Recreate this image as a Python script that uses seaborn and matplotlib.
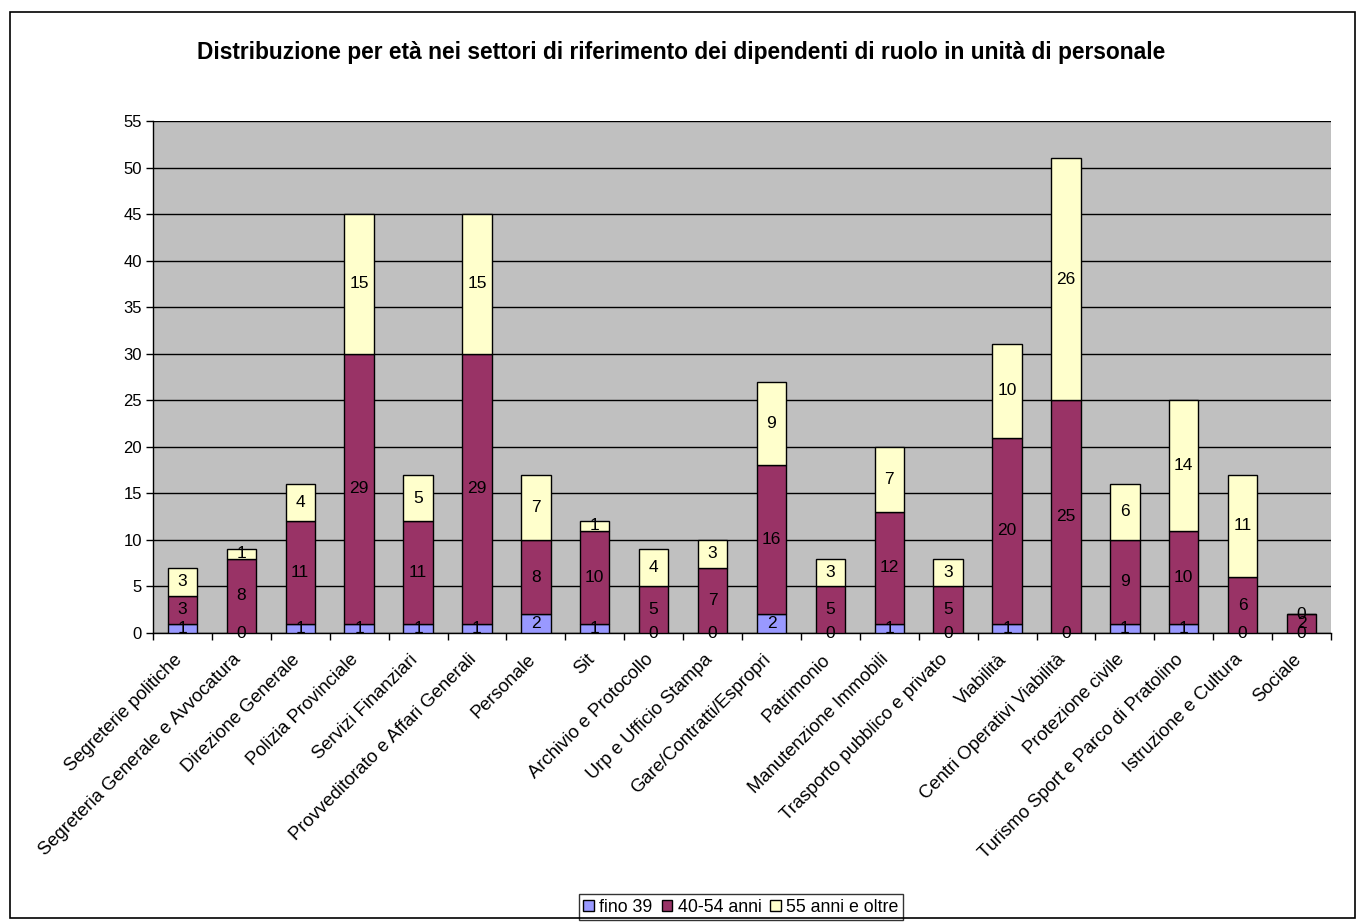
import matplotlib
matplotlib.use("Agg")
import matplotlib.pyplot as plt
import matplotlib.transforms as mtransforms
import seaborn as sns
import numpy as np
from matplotlib.patches import Rectangle, Patch

categories = ["Segreterie politiche", "Segreteria Generale e Avvocatura", "Direzione Generale",
              "Polizia Provinciale", "Servizi Finanziari", "Provveditorato e Affari Generali",
              "Personale", "Sit", "Archivio e Protocollo", "Urp e Ufficio Stampa",
              "Gare/Contratti/Espropri", "Patrimonio", "Manutenzione Immobili",
              "Trasporto pubblico e privato", "Viabilità", "Centri Operativi Viabilità",
              "Protezione civile", "Turismo Sport e Parco di Pratolino", "Istruzione e Cultura",
              "Sociale"]
fino39 = [1, 0, 1, 1, 1, 1, 2, 1, 0, 0, 2, 0, 1, 0, 1, 0, 1, 1, 0, 0]
anni40_54 = [3, 8, 11, 29, 11, 29, 8, 10, 5, 7, 16, 5, 12, 5, 20, 25, 9, 10, 6, 2]
anni55 = [3, 1, 4, 15, 5, 15, 7, 1, 4, 3, 9, 3, 7, 3, 10, 26, 6, 14, 11, 0]
series_names = ["fino 39", "40-54 anni", "55 anni e oltre"]
colors = ["#9999FF", "#993366", "#FFFFCC"]
title = "Distribuzione per età nei settori di riferimento dei dipendenti di ruolo in unità di personale"

sns.set_theme(style="white")
plt.rcParams['font.family'] = ['Liberation Sans', 'DejaVu Sans']
plt.rcParams['text.color'] = 'black'
plt.rcParams['xtick.color'] = 'black'
plt.rcParams['ytick.color'] = 'black'
plt.rcParams['axes.labelcolor'] = 'black'

fig = plt.figure(figsize=(13.61, 9.23), dpi=100)
ax = fig.add_axes([153/1361, 1 - 633/923, (1331 - 153)/1361, (633 - 121)/923])
ax.set_facecolor("#C0C0C0")

series = [fino39, anni40_54, anni55]
bottom = np.zeros(len(categories))
for vals, col, name in zip(series, colors, series_names):
    sns.barplot(x=categories, y=vals, bottom=bottom, color=col, saturation=1, width=0.5,
                edgecolor="black", linewidth=1, ax=ax, label=name, zorder=3)
    bottom = bottom + np.array(vals)

for cont in ax.containers:
    ax.bar_label(cont, label_type="center", fontsize=12.5, color="black", zorder=5)

ax.set_ylim(0, 55)
ax.set_xlim(-0.5, len(categories) - 0.5)
ax.set_yticks(np.arange(0, 56, 5))
ax.yaxis.grid(True, color="black", linewidth=1, zorder=0)
ax.set_axisbelow(True)
ax.tick_params(axis="y", labelsize=12, length=5, width=1, color="black", labelcolor="black",
               direction="out", left=True, pad=3)
ax.tick_params(axis="x", which="major", length=0, labelsize=13.3, labelcolor="black", pad=13)
ax.set_xticks(np.arange(-0.5, len(categories), 1), minor=True)
ax.tick_params(axis="x", which="minor", length=5, width=1, color="black", direction="out", bottom=True)
plt.setp(ax.get_xticklabels(), rotation=45, ha="right", rotation_mode="anchor")
offset = mtransforms.ScaledTranslation(-9/100, 0, fig.dpi_scale_trans)
for lab in ax.get_xticklabels():
    lab.set_transform(lab.get_transform() + offset)
for s in ["top", "right"]:
    ax.spines[s].set_visible(False)
for s in ["left", "bottom"]:
    ax.spines[s].set_color("black")
    ax.spines[s].set_linewidth(1)
ax.set_ylabel("")
ax.set_xlabel("")
if ax.legend_:
    ax.legend_.remove()

handles = [Patch(facecolor=c, edgecolor="black", linewidth=1) for c in colors]
leg = fig.legend(handles, series_names, loc="center", bbox_to_anchor=(741/1361, 1 - 907/923),
                 ncol=3, frameon=True, fontsize=12.8, handlelength=0.6, handleheight=0.6,
                 handletextpad=0.3, columnspacing=0.5, borderpad=0.25, fancybox=False)
leg.get_frame().set_edgecolor("black")
leg.get_frame().set_linewidth(1)
for t in leg.get_texts():
    t.set_color("black")

fig.text(681/1361, 1 - 53/923, title, ha="center", va="center", fontsize=16.4,
         fontweight="bold", color="black")

fig.patches.append(Rectangle((10/1361, 1 - 918/923), (1355 - 10)/1361, (918 - 12)/923,
                             transform=fig.transFigure, fill=False, edgecolor="black",
                             linewidth=1.2, zorder=10))

fig.savefig("out.png", dpi=100)
